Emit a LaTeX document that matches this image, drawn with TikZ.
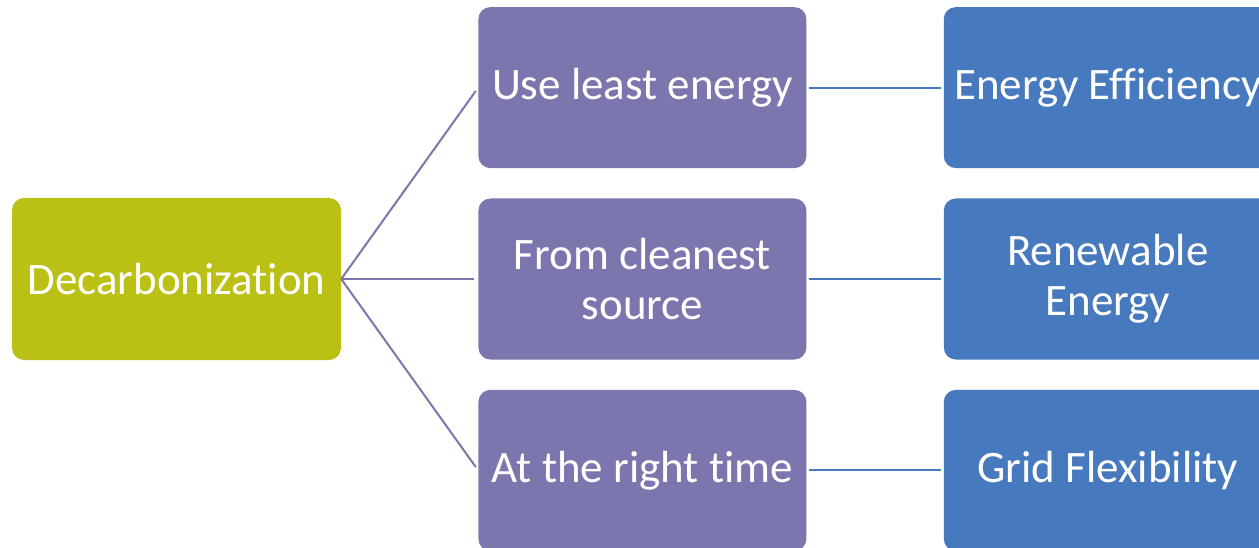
\documentclass[tikz,border=0pt]{standalone}
\usepackage{fontspec}
\setmainfont{Carlito}[Ligatures=NoCommon]
\usetikzlibrary{positioning}
\definecolor{olive}{RGB}{187,192,20}
\definecolor{lilac}{RGB}{123,118,174}
\definecolor{steel}{RGB}{71,121,190}
\begin{document}
\begin{tikzpicture}[x=1pt,y=1pt,node distance=137pt,
        box/.style={rectangle,rounded corners=12pt,minimum width=328pt,minimum height=161pt,
          inner sep=0pt,text=white,align=center,font=\fontsize{45}{50}\selectfont}]
        \useasboundingbox (0,0) rectangle (1259,-548);
        \clip (0,0) rectangle (1259,-548);
        \node[box,fill=olive,minimum width=329pt,minimum height=162pt] (dec) at (176.5,-279) {Decarbonization};
        \node[box,fill=lilac]  (clean) [right=of dec] {From cleanest\\source};
        \node[box,fill=lilac]  (use) [above=30pt of clean] {Use least energy};
        \node[box,fill=lilac]  (time) [below=30pt of clean] {At the right time};
        \node[box,fill=steel]  (ren) [right=of clean] {Renewable\\Energy};
        \node[box,fill=steel]  (eff) [right=of use] {Energy Efficiency};
        \node[box,fill=steel]  (flex) [right=of time] {Grid Flexibility};
        \path[draw=lilac,line width=2pt,shorten >=4pt]
          (dec.east) edge (use.west)
          (dec.east) edge (clean.west)
          (dec.east) edge (time.west)
          ;
        \path[draw=steel,line width=2pt,shorten <=2pt,shorten >=3pt]
          (use) edge (eff)
          (clean) edge (ren)
          (time) edge (flex)
          ;
      \end{tikzpicture}
\end{document}
